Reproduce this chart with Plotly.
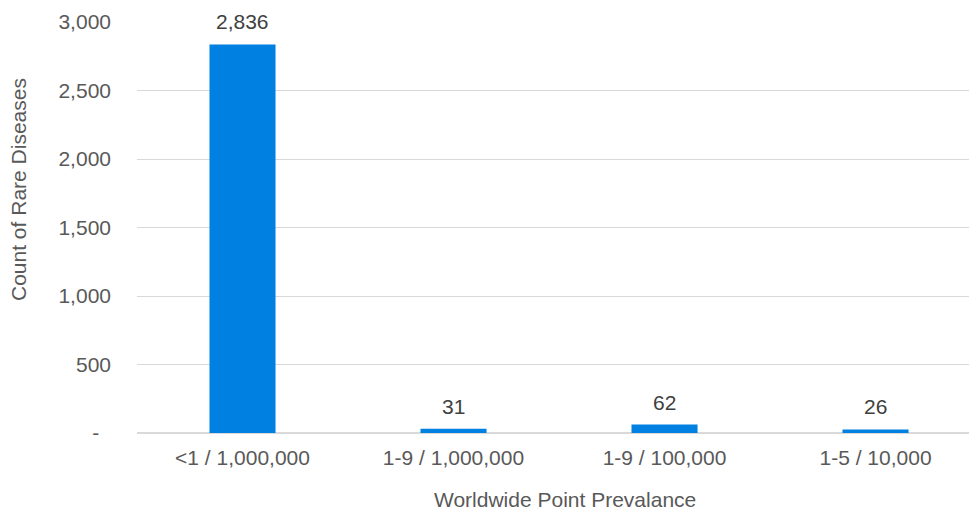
import plotly.graph_objects as go

# Rare disease counts by worldwide point prevalence class
categories = ["<1 / 1,000,000", "1-9 / 1,000,000", "1-9 / 100,000", "1-5 / 10,000"]
counts = [2836, 31, 62, 26]

y_tickvals = [0, 500, 1000, 1500, 2000, 2500, 3000]
y_ticktext = ["-\u00a0\u00a0", "500", "1,000", "1,500", "2,000", "2,500", "3,000"]

FONT = "Liberation Sans, Arial, sans-serif"
FS = 21
BAR_COLOR = "#0080E1"
AXIS_TEXT = "#595959"
LABEL_TEXT = "#404040"
GRID = "#D9D9D9"

fig = go.Figure()
fig.add_trace(go.Bar(
    x=categories,
    y=counts,
    width=0.313,
    marker=dict(color=BAR_COLOR, line=dict(width=0)),
    hoverinfo="skip",
))

# Value labels above each bar
for cat, val in zip(categories, counts):
    fig.add_annotation(
        x=cat, y=val, text=f"{val:,}", showarrow=False,
        xref="x", yref="y", yanchor="bottom", yshift=9,
        font=dict(family=FONT, size=FS, color=LABEL_TEXT),
    )

# Axis titles (plot area spans 137..969 px horizontally, 22..433 px vertically)
fig.add_annotation(
    text="Worldwide Point Prevalance", showarrow=False,
    xref="paper", yref="paper", x=(564.5 - 137) / 832, y=(433 - 499) / 411,
    xanchor="center", yanchor="middle",
    font=dict(family=FONT, size=FS, color=AXIS_TEXT),
)
fig.add_annotation(
    text="Count of Rare Diseases", showarrow=False, textangle=-90,
    xref="paper", yref="paper", x=(19 - 137) / 832, y=(433 - 190) / 411,
    xanchor="center", yanchor="middle",
    font=dict(family=FONT, size=FS, color=AXIS_TEXT),
)

fig.update_layout(
    width=969, height=511,
    margin=dict(l=137, r=0, t=22, b=78),
    paper_bgcolor="white", plot_bgcolor="white",
    showlegend=False,
    font=dict(family=FONT, size=FS, color=AXIS_TEXT),
    xaxis=dict(
        type="category", range=[-0.5, 3.443],
        showgrid=False, showline=False, ticks="", zeroline=False,
        tickfont=dict(family=FONT, size=FS, color=AXIS_TEXT),
        ticklabelstandoff=10,
    ),
    yaxis=dict(
        range=[0, 3000], tickvals=y_tickvals, ticktext=y_ticktext,
        showgrid=True, gridcolor=GRID, gridwidth=1.2,
        zeroline=True, zerolinecolor=GRID, zerolinewidth=1.5,
        showline=False, ticks="",
        tickfont=dict(family=FONT, size=FS, color=AXIS_TEXT),
        ticklabelstandoff=25,
    ),
)

fig.write_html("out.html")
